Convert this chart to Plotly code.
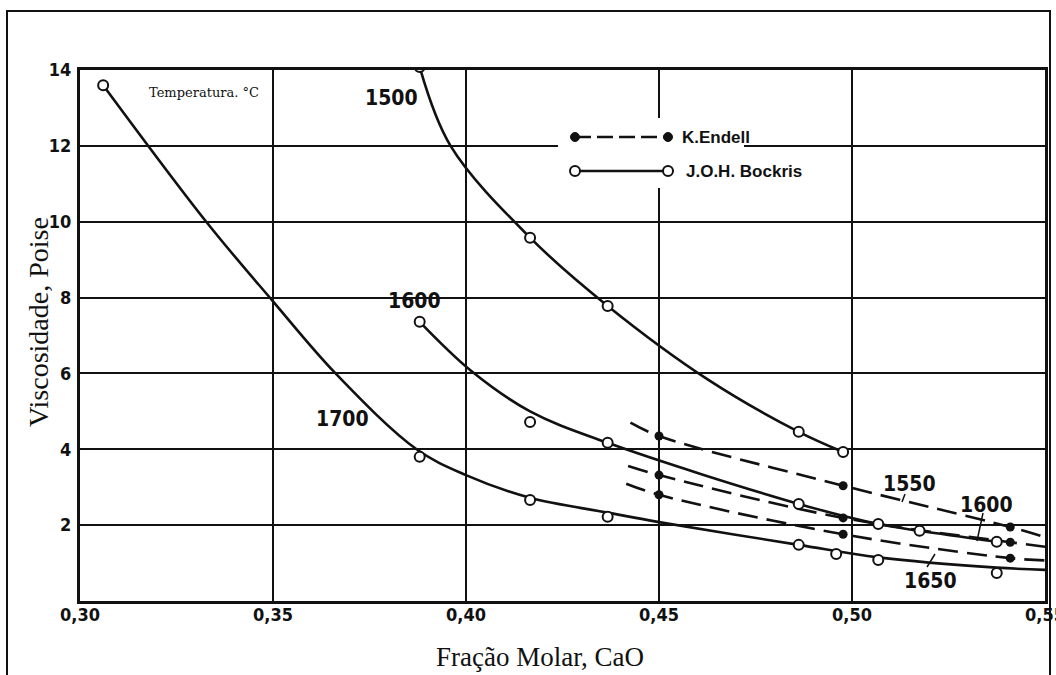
import plotly.graph_objects as go

# ---- J.O.H. Bockris (solid curves, open circles) ----
bockris_1500_curve_x = [0.388, 0.396, 0.4166, 0.4367, 0.4628, 0.4862, 0.4977]
bockris_1500_curve_y = [14.08, 12.0, 9.58, 7.78, 5.83, 4.46, 3.93]
bockris_1500_pts_x = [0.388, 0.4166, 0.4367, 0.4862, 0.4977]
bockris_1500_pts_y = [14.08, 9.58, 7.78, 4.46, 3.93]

bockris_1600_curve_x = [0.388, 0.4013, 0.4166, 0.4367, 0.4862, 0.5068, 0.5175, 0.5375]
bockris_1600_curve_y = [7.36, 6.07, 5.0, 4.17, 2.56, 2.03, 1.85, 1.56]
bockris_1600_pts_x = [0.388, 0.4166, 0.4367, 0.4862, 0.5068, 0.5175, 0.5375]
bockris_1600_pts_y = [7.36, 4.72, 4.17, 2.56, 2.03, 1.85, 1.56]

bockris_1700_curve_x = [0.306, 0.3327, 0.35, 0.3662, 0.3872, 0.40, 0.4166,
                        0.4367, 0.45, 0.4862, 0.5068, 0.5375, 0.55]
bockris_1700_curve_y = [13.6, 10.0, 7.9, 6.0, 4.0, 3.32, 2.72,
                        2.33, 2.08, 1.48, 1.15, 0.88, 0.82]
bockris_1700_pts_x = [0.306, 0.388, 0.4166, 0.4367, 0.4862, 0.4959, 0.5068, 0.5375]
bockris_1700_pts_y = [13.6, 3.80, 2.66, 2.22, 1.48, 1.24, 1.08, 0.74]

# ---- K. Endell (dashed curves, filled dots) ----
endell_1550_x = [0.4426, 0.45, 0.4977, 0.541, 0.55]
endell_1550_y = [4.70, 4.35, 3.04, 1.95, 1.68]
endell_1600_x = [0.442, 0.45, 0.4977, 0.541, 0.55]
endell_1600_y = [3.56, 3.32, 2.19, 1.55, 1.43]
endell_1650_x = [0.4415, 0.45, 0.4977, 0.541, 0.55]
endell_1650_y = [3.09, 2.80, 1.76, 1.13, 1.07]
endell_pts_x = [0.45, 0.4977, 0.541]
endell_1550_pts_y = [4.35, 3.04, 1.95]
endell_1600_pts_y = [3.32, 2.19, 1.55]
endell_1650_pts_y = [2.80, 1.76, 1.13]

# ---- axis ticks ----
x_tick_vals = [0.30, 0.35, 0.40, 0.45, 0.50, 0.55]
x_tick_text = ["0,30", "0,35", "0,40", "0,45", "0,50", "0,55"]
y_tick_vals = [2, 4, 6, 8, 10, 12, 14]
y_tick_text = ["2", "4", "6", "8", "10", "12", "14"]

W, H = 1056, 675
ML, MR, MT, MB = 80, 11, 70, 74
PW, PH = W - ML - MR, H - MT - MB
INK = "#111111"
CURVE_W = 2.6
NUM_FONT = dict(family="Liberation Sans Narrow, DejaVu Sans Condensed, Liberation Sans",
                size=21, color=INK, weight="bold")
TICK_FONT = dict(family="Liberation Sans Narrow, DejaVu Sans Condensed, Liberation Sans",
                 size=18, color=INK, weight="bold")
LEG_FONT = dict(family="Liberation Sans", size=17, color=INK, weight="bold")
SERIF = "Liberation Serif, Times New Roman, serif"


def px(xp, yp):
    """Pixel position on the page -> paper coordinates."""
    return (xp - ML) / PW, (H - MB - yp) / PH


fig = go.Figure()

# solid Bockris curves
for cx, cy in [(bockris_1500_curve_x, bockris_1500_curve_y),
               (bockris_1600_curve_x, bockris_1600_curve_y),
               (bockris_1700_curve_x, bockris_1700_curve_y)]:
    fig.add_trace(go.Scatter(x=cx, y=cy, mode="lines", line_shape="spline",
                             line=dict(color=INK, width=CURVE_W, smoothing=1.0),
                             hoverinfo="skip", showlegend=False))

# dashed Endell curves
for cx, cy in [(endell_1550_x, endell_1550_y),
               (endell_1600_x, endell_1600_y),
               (endell_1650_x, endell_1650_y)]:
    fig.add_trace(go.Scatter(x=cx, y=cy, mode="lines", line_shape="spline",
                             line=dict(color=INK, width=CURVE_W, dash="20px,9px"),
                             hoverinfo="skip", showlegend=False))

# open circles (Bockris)
for mx, my in [(bockris_1500_pts_x, bockris_1500_pts_y),
               (bockris_1600_pts_x, bockris_1600_pts_y),
               (bockris_1700_pts_x, bockris_1700_pts_y)]:
    fig.add_trace(go.Scatter(x=mx, y=my, mode="markers",
                             marker=dict(symbol="circle", size=10, color="white",
                                         line=dict(color=INK, width=2)),
                             showlegend=False))

# filled dots (Endell)
for my in [endell_1550_pts_y, endell_1600_pts_y, endell_1650_pts_y]:
    fig.add_trace(go.Scatter(x=endell_pts_x, y=my, mode="markers",
                             marker=dict(symbol="circle", size=9, color=INK),
                             showlegend=False))

shapes = []
annotations = []

# outer frame around the figure
fx0, fy0 = px(7, 11)
fx1, fy1 = px(1050, 700)
shapes.append(dict(type="rect", xref="paper", yref="paper", x0=fx0, y0=fy1, x1=fx1, y1=fy0,
                   line=dict(color=INK, width=2), fillcolor="rgba(0,0,0,0)", layer="above"))

# key box (white, hides the grid behind it)
for (a, b, c, d) in [(558, 118, 744, 158), (558, 158, 812, 188)]:
    x0, y0 = px(a, d)
    x1, y1 = px(c, b)
    shapes.append(dict(type="rect", xref="paper", yref="paper", x0=x0, y0=y0, x1=x1, y1=y1,
                       line=dict(width=0), fillcolor="white", layer="above"))

# key samples
ky_end, ky_boc = 137, 171
kx0, kx1 = 575, 668
a0, b0 = px(kx0, ky_end)
a1, b1 = px(kx1, ky_end)
shapes.append(dict(type="line", xref="paper", yref="paper", x0=a0, y0=b0, x1=a1, y1=b1,
                   line=dict(color=INK, width=CURVE_W, dash="16px,6px"), layer="above"))
a0, b0 = px(kx0, ky_boc)
a1, b1 = px(kx1, ky_boc)
shapes.append(dict(type="line", xref="paper", yref="paper", x0=a0, y0=b0, x1=a1, y1=b1,
                   line=dict(color=INK, width=CURVE_W), layer="above"))
for cxp in (kx0, kx1):
    x0, y0 = px(cxp - 4.5, ky_end + 4.5)
    x1, y1 = px(cxp + 4.5, ky_end - 4.5)
    shapes.append(dict(type="circle", xref="paper", yref="paper", x0=x0, y0=y0, x1=x1, y1=y1,
                       fillcolor=INK, line=dict(color=INK, width=1), layer="above"))
    x0, y0 = px(cxp - 5, ky_boc + 5)
    x1, y1 = px(cxp + 5, ky_boc - 5)
    shapes.append(dict(type="circle", xref="paper", yref="paper", x0=x0, y0=y0, x1=x1, y1=y1,
                       fillcolor="white", line=dict(color=INK, width=2), layer="above"))

for txt, xp_, yp_ in [("K.Endell", 680, ky_end), ("J.O.H. Bockris", 684, ky_boc)]:
    ax_, ay_ = px(xp_, yp_)
    annotations.append(dict(text=txt, xref="paper", yref="paper", x=ax_, y=ay_,
                            xanchor="left", yanchor="middle", showarrow=False, font=LEG_FONT))

# temperature labels on the curves
for txt, xp_, yp_ in [("1500", 391, 98), ("1600", 414, 301), ("1700", 342, 419),
                      ("1550", 909, 484), ("1600", 986, 505), ("1650", 930, 581)]:
    ax_, ay_ = px(xp_, yp_)
    annotations.append(dict(text=txt, xref="paper", yref="paper", x=ax_, y=ay_,
                            xanchor="center", yanchor="middle", showarrow=False, font=NUM_FONT))

# short leader strokes from labels to curves
for (p0, p1) in [((905, 494), (902, 502)), ((983, 513), (977, 541)), ((927, 567), (935, 554))]:
    x0, y0 = px(*p0)
    x1, y1 = px(*p1)
    shapes.append(dict(type="line", xref="paper", yref="paper", x0=x0, y0=y0, x1=x1, y1=y1,
                       line=dict(color=INK, width=1.5), layer="above"))

tx, ty = px(204, 92)
annotations.append(dict(text="Temperatura. °C", xref="paper", yref="paper", x=tx, y=ty,
                        xanchor="center", yanchor="middle", showarrow=False,
                        font=dict(family="DejaVu Serif", size=13, color=INK)))

# axis titles
tx, ty = px(540, 657)
annotations.append(dict(text="Fração Molar, CaO", xref="paper", yref="paper", x=tx, y=ty,
                        xanchor="center", yanchor="middle", showarrow=False,
                        font=dict(family=SERIF, size=27, color=INK)))
tx, ty = px(38, 322)
annotations.append(dict(text="Viscosidade, Poise", xref="paper", yref="paper", x=tx, y=ty,
                        xanchor="center", yanchor="middle", showarrow=False, textangle=-90,
                        font=dict(family=SERIF, size=28, color=INK)))

fig.update_layout(
    width=W, height=H,
    margin=dict(l=ML, r=MR, t=MT, b=MB, pad=0, autoexpand=False),
    paper_bgcolor="white", plot_bgcolor="white",
    shapes=shapes, annotations=annotations,
    showlegend=False,
)
fig.update_xaxes(range=[0.30, 0.55], tickvals=x_tick_vals, ticktext=x_tick_text,
                 showgrid=True, gridcolor=INK, gridwidth=2,
                 showline=True, linecolor=INK, linewidth=3, mirror=True,
                 zeroline=False, ticks="", tickfont=TICK_FONT, ticklabelstandoff=-5,
                 ticklabeloverflow="allow", automargin=False)
fig.update_yaxes(range=[0, 14], tickvals=y_tick_vals, ticktext=y_tick_text,
                 showgrid=True, gridcolor=INK, gridwidth=2,
                 showline=True, linecolor=INK, linewidth=3, mirror=True,
                 zeroline=False, ticks="", tickfont=TICK_FONT, ticklabelstandoff=2,
                 automargin=False)

fig.write_html("out.html")
